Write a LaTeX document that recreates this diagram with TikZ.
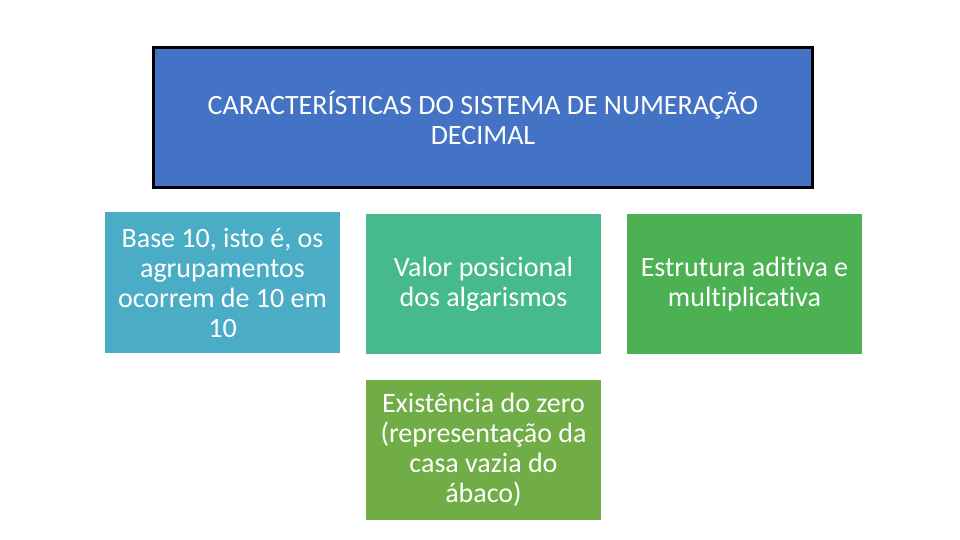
\documentclass[tikz,border=0pt]{standalone}
\usepackage{fontspec}
\setmainfont[Ligatures=NoCommon]{Carlito}
\usepackage{xcolor}

\definecolor{azulTitulo}{HTML}{4472C4}
\definecolor{azulBase}{HTML}{4BACC6}
\definecolor{verdeValor}{HTML}{46B98D}
\definecolor{verdeEstrutura}{HTML}{4BB152}
\definecolor{verdeZero}{HTML}{70AD47}

\tikzset{
    caixa/.style={rectangle, inner sep=0pt, align=center, text=white,
        minimum width=117.5pt, minimum height=70pt,
        font=\fontsize{14}{15}\selectfont}
}

\begin{document}
\begin{tikzpicture}[x=0.5pt, y=-0.5pt]
    \useasboundingbox (0, 0) rectangle (960, 540);

    \node[caixa, draw=black, line width=1.5pt, fill=azulTitulo,
        minimum width=329.5pt, minimum height=70pt] (titulo) at (483, 117.5)
        {CARACTERÍSTICAS DO SISTEMA DE NUMERAÇÃO\\DECIMAL};

    \node[caixa, fill=azulBase] (base) at (222.5, 282.5)
        {Base 10, isto é, os\\agrupamentos\\ocorrem de 10 em\\10};
    \node[caixa, fill=verdeValor] (valor) at (483.5, 284)
        {Valor posicional\\dos algarismos};
    \node[caixa, fill=verdeEstrutura] (estrutura) at (744.5, 284)
        {Estrutura aditiva e\\multiplicativa};
    \node[caixa, fill=verdeZero] (zero) at (483.5, 450)
        {Existência do zero\\(representação da\\casa vazia do\\ábaco)};
\end{tikzpicture}
\end{document}
